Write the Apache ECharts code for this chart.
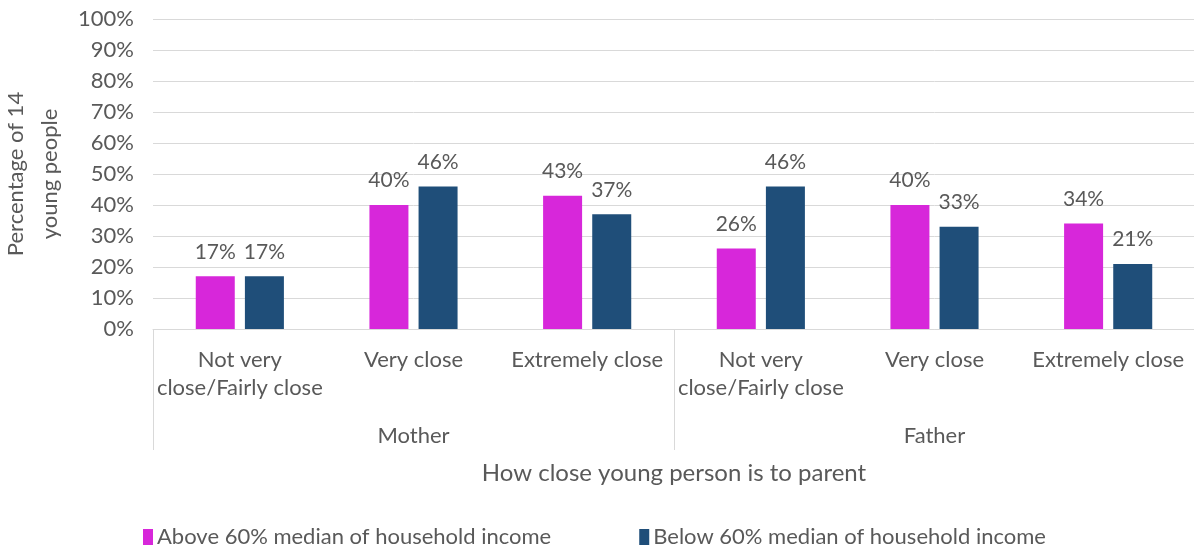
<!DOCTYPE html>
<html>
<head>
<meta charset="utf-8">
<script src="https://cdn.jsdelivr.net/npm/echarts@6/dist/echarts.min.js"></script>
<style>
  html, body { margin: 0; padding: 0; background: #ffffff; }
  #chart { width: 1194px; height: 549px; }
</style>
</head>
<body>
<div id="chart"></div>
<script>
// Closeness categories, repeated for each parent
const closenessLabels = [
  'Not very\nclose/Fairly close', 'Very close', 'Extremely close',
  'Not very\nclose/Fairly close ', 'Very close ', 'Extremely close '
];
const parents = ['Mother', 'Father'];

// Percentage of young people in each income group
const aboveMedian = [17, 40, 43, 26, 40, 34];
const belowMedian = [17, 46, 37, 46, 33, 21];

const seriesNames = [
  'Above 60% median of household income',
  'Below 60% median of household income'
];

const yTicks = [0, 10, 20, 30, 40, 50, 60, 70, 80, 90, 100];

const FONT = 'Lato';
const TEXT = '#595959';
const GRID_LINE = '#d9d9d9';

const chart = echarts.init(document.getElementById('chart'));

const labelStyle = {
  show: true,
  position: 'top',
  distance: 14,
  formatter: p => p.value + '%',
  color: TEXT,
  fontFamily: FONT,
  fontSize: 21
};

chart.setOption({
  animation: false,
  textStyle: { fontFamily: FONT, color: TEXT },
  grid: {
    left: 153, right: -1, top: 19, bottom: 220,
    containLabel: false,
    outerBoundsMode: 'none'
  },
  legend: {
    left: 138,
    top: 521,
    itemWidth: 10,
    itemHeight: 16,
    itemGap: 88,
    icon: 'rect',
    textStyle: { fontFamily: FONT, fontSize: 22, color: TEXT, padding: [0, 0, 0, -1] },
    data: seriesNames
  },
  xAxis: [
    {
      type: 'category',
      data: closenessLabels,
      position: 'bottom',
      axisLine: { show: true, lineStyle: { color: GRID_LINE, width: 1 } },
      axisTick: { show: false },
      axisLabel: {
        interval: 0,
        margin: 17,
        color: TEXT,
        fontFamily: FONT,
        fontSize: 22,
        lineHeight: 28,
        formatter: v => v.trim()
      }
    },
    {
      type: 'category',
      data: parents,
      position: 'bottom',
      axisLine: { show: false },
      axisTick: { show: true, length: 121, lineStyle: { color: GRID_LINE, width: 1 } },
      axisLabel: { margin: 96, color: TEXT, fontFamily: FONT, fontSize: 22 }
    }
  ],
  yAxis: {
    type: 'value',
    min: yTicks[0],
    max: yTicks[yTicks.length - 1],
    interval: 10,
    name: 'Percentage of 14\nyoung people',
    nameLocation: 'middle',
    nameRotate: 90,
    nameGap: 82,
    nameTextStyle: { fontFamily: FONT, fontSize: 22, color: TEXT, lineHeight: 34 },
    axisLine: { show: false },
    axisTick: { show: false },
    axisLabel: {
      margin: 19,
      color: TEXT,
      fontFamily: FONT,
      fontSize: 22,
      formatter: v => v + '%'
    },
    splitLine: { show: true, lineStyle: { color: GRID_LINE, width: 1 } }
  },
  graphic: [{
    type: 'text',
    x: 674,
    y: 473,
    style: {
      text: 'How close young person is to parent',
      fontFamily: FONT,
      fontSize: 24,
      fill: TEXT,
      align: 'center',
      verticalAlign: 'middle'
    }
  }],
  series: [
    {
      name: seriesNames[0],
      type: 'bar',
      xAxisIndex: 0,
      data: aboveMedian,
      barWidth: 39,
      barGap: '26%',
      itemStyle: { color: '#D727DA' },
      label: labelStyle
    },
    {
      name: seriesNames[1],
      type: 'bar',
      xAxisIndex: 0,
      data: belowMedian,
      barWidth: 39,
      barGap: '26%',
      itemStyle: { color: '#1F4E79' },
      label: labelStyle
    }
  ]
});
</script>
</body>
</html>
